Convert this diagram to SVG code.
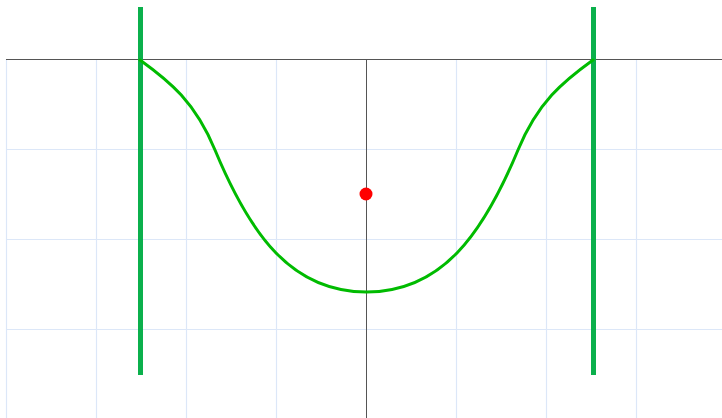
<svg xmlns="http://www.w3.org/2000/svg" width="722" height="418" viewBox="0 0 722 418">
<style>
.grid{stroke:#dce7f8;stroke-width:1.2;fill:none}
.axis{stroke:#555;stroke-width:1;fill:none}
.bar{stroke:#0bb04c;stroke-width:5;fill:none}
.curve{stroke:#00bb00;stroke-width:3;fill:none;stroke-linecap:round}
</style>
<rect width="722" height="418" fill="#fff"/>
<g id="grid">
<path class="grid" d="M6.5,59V418M96.5,59V418M186.5,59V418M276.5,59V418M456.5,59V418M546.5,59V418M636.5,59V418M6,149.5H722M6,239.5H722M6,329.5H722"/>
</g>
<g id="axes">
<path class="axis" d="M6,59.5H722M366.5,59V418"/>
</g>
<g id="bars">
<line class="bar" x1="140.5" y1="7" x2="140.5" y2="375"/>
<line class="bar" x1="593.5" y1="7" x2="593.5" y2="375"/>
</g>
<g id="curve">
<path class="curve" d="M140,60C170,81.6 195,102 215,150C250,234 291,292 366.5,292C442,292 483,234 518,150C538,102 563,81.6 593,60"/>
</g>
<g id="point">
<circle cx="366" cy="194" r="6.5" fill="#ff0000"/>
</g>
</svg>
